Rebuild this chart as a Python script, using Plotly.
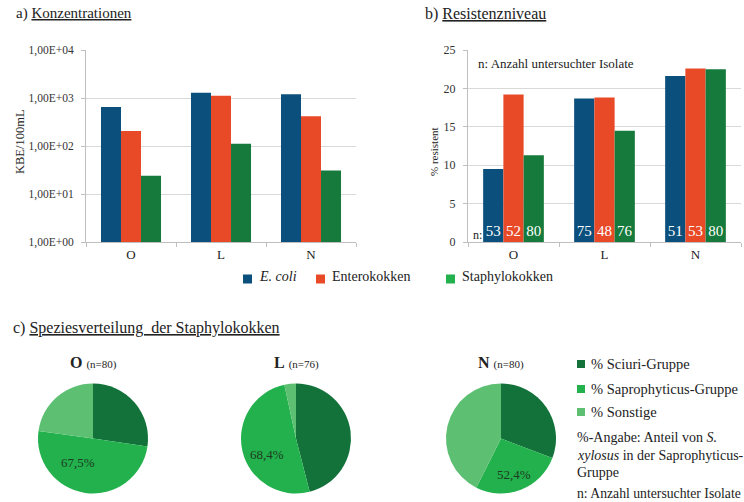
import plotly.graph_objects as go

W, H = 744, 502
FONT = "Liberation Serif, Times New Roman, DejaVu Serif, serif"

# ---------------- data ----------------
categories = ["O", "L", "N"]
series_names = ["<i>E. coli</i>", "Enterokokken", "Staphylokokken"]
series_colors = ["#0b4f7c", "#e84a27", "#167a3c"]
legend_colors = ["#0b4f7c", "#e84a27", "#22b14c"]

conc_ecoli = [650, 1290, 1200]
conc_entero = [205, 1120, 415]
conc_staph = [24, 112, 31]

res_ecoli = [9.5, 18.7, 21.6]
res_entero = [19.2, 18.8, 22.6]
res_staph = [11.3, 14.5, 22.5]

n_ecoli = [53, 75, 51]
n_entero = [52, 48, 53]
n_staph = [80, 76, 80]

log_tickvals = [1, 10, 100, 1000, 10000]
log_ticktext = ["1,00E+00", "1,00E+01", "1,00E+02", "1,00E+03", "1,00E+04"]
res_tickvals = [0, 5, 10, 15, 20, 25]

pie_labels = ["% Sciuri-Gruppe", "% Saprophyticus-Gruppe", "% Sonstige"]
pie_colors = ["#12723a", "#22b14c", "#5cbf72"]
pie_O = [27.3, 49.9, 22.8]
pie_L = [46.0, 50.6, 3.4]
pie_N = [30.8, 26.6, 42.6]
pie_titles = ["O", "L", "N"]
pie_n = [80, 76, 80]
xylosus_share = ["67,5%", "68,4%", "52,4%"]

# ---------------- helpers ----------------
def px(x):
    return x / W

def py(y):
    return 1 - y / H

fig = go.Figure()

conc = [conc_ecoli, conc_entero, conc_staph]
res = [res_ecoli, res_entero, res_staph]
ns = [n_ecoli, n_entero, n_staph]

for i in range(3):
    fig.add_trace(go.Bar(
        x=categories, y=conc[i], name=series_names[i],
        marker=dict(color=series_colors[i], line=dict(width=0)),
        xaxis="x", yaxis="y", showlegend=False,
    ))
for i in range(3):
    fig.add_trace(go.Bar(
        x=categories, y=res[i], name=series_names[i],
        marker=dict(color=series_colors[i], line=dict(width=0)),
        text=[str(v) for v in ns[i]], textposition="inside",
        insidetextanchor="start", textangle=0,
        insidetextfont=dict(family=FONT, size=15, color="white"),
        cliponaxis=False, constraintext="none",
        xaxis="x2", yaxis="y2", showlegend=False,
    ))

# pies
pie_vals = [pie_O, pie_L, pie_N]
pie_cx = [93, 296, 501]
pie_cy = 438.5
R = 55
for j in range(3):
    fig.add_trace(go.Pie(
        labels=pie_labels, values=pie_vals[j],
        marker=dict(colors=pie_colors, line=dict(width=0)),
        sort=False, direction="clockwise", rotation=0,
        textinfo="none", hoverinfo="label+percent", showlegend=False,
        domain=dict(x=[px(pie_cx[j] - R), px(pie_cx[j] + R)],
                    y=[py(pie_cy + R), py(pie_cy - R)]),
    ))

fig.update_layout(
    width=W, height=H,
    margin=dict(l=0, r=0, t=0, b=0, autoexpand=False),
    paper_bgcolor="white", plot_bgcolor="white",
    font=dict(family=FONT, color="#222222"),
    showlegend=False,
    barmode="group", bargap=0.333, bargroupgap=0,
    xaxis=dict(domain=[px(86), px(356)], anchor="y",
               ticks="outside", tickson="boundaries", ticklen=4, tickcolor="#bfbfbf",
               showgrid=False, linecolor="#bfbfbf", showline=True,
               tickfont=dict(family=FONT, size=13, color="#222222")),
    yaxis=dict(domain=[py(242), py(50)], anchor="x", type="log",
               range=[0, 4], tickvals=log_tickvals, ticktext=log_ticktext,
               gridcolor="#d9d9d9", ticks="outside", ticklen=4, tickcolor="#bfbfbf",
               ticklabelstandoff=5,
               showline=True, linecolor="#bfbfbf",
               tickfont=dict(family=FONT, size=11.5, color="#333333")),
    xaxis2=dict(domain=[px(468), px(741)], anchor="y2",
                ticks="outside", tickson="boundaries", ticklen=4, tickcolor="#bfbfbf",
                showgrid=False, linecolor="#bfbfbf", showline=True,
                tickfont=dict(family=FONT, size=13, color="#222222")),
    yaxis2=dict(domain=[py(242), py(50)], anchor="x2",
                range=[0, 25], tickvals=res_tickvals,
                gridcolor="#d9d9d9", ticks="outside", ticklen=4, tickcolor="#bfbfbf",
                ticklabelstandoff=5,
                showline=True, linecolor="#bfbfbf",
                tickfont=dict(family=FONT, size=12, color="#333333")),
)

ann = []
shapes = []
def add_text(x, y, text, size=13, xanchor="left", yanchor="middle", color="#222222", angle=0):
    ann.append(dict(x=px(x), y=py(y), xref="paper", yref="paper", text=text,
                    showarrow=False, xanchor=xanchor, yanchor=yanchor, textangle=angle,
                    font=dict(family=FONT, size=size, color=color)))

def add_square(x0, yc, color, s=9):
    shapes.append(dict(type="rect", xref="paper", yref="paper",
                       x0=px(x0), x1=px(x0 + s), y0=py(yc + s / 2), y1=py(yc - s / 2),
                       fillcolor=color, line=dict(width=0)))

add_text(14, 14, "a) <u>Konzentrationen</u>", size=15)
add_text(423, 14, "b) <u>Resistenzniveau</u>", size=16)
add_text(11, 328, "c) <u>Speziesverteilung  der Staphylokokken</u>", size=16)
add_text(20, 142, "KBE/100mL", size=12.5, xanchor="center", angle=-90)
add_text(434, 152, "% resistent", size=11, xanchor="center", angle=-90)
add_text(476, 63, "n: Anzahl untersuchter Isolate", size=13)
add_text(484, 235, "n:", size=12, xanchor="right")

# bar legend
leg_sq = [243, 316, 446]
for i in range(3):
    add_square(leg_sq[i], 279, legend_colors[i])
    add_text(leg_sq[i] + 14, 276, series_names[i], size=14)

for j in range(3):
    add_text(pie_cx[j], 362, "<b>%s</b> <span style='font-size:11px'>(n=%d)</span>" % (pie_titles[j], pie_n[j]),
             size=16, xanchor="center")
xyl_pos = [(78, 462), (267, 454), (514, 474)]
for j in range(3):
    add_text(xyl_pos[j][0], xyl_pos[j][1], xylosus_share[j], size=13, xanchor="center", color="#1e3a22")

# pie legend
leg_rows = [364, 389, 412]
for k in range(3):
    add_square(577, leg_rows[k], pie_colors[k], s=8)
    add_text(589, leg_rows[k], pie_labels[k], size=14.5)
add_text(575, 437, "%-Angabe: Anteil von <i>S.</i>", size=14)
add_text(575, 455, "<i>xylosus</i> in der Saprophyticus-", size=14)
add_text(575, 472, "Gruppe", size=14)
add_text(575, 493, "n: Anzahl untersuchter Isolate", size=13.7)

fig.update_layout(annotations=ann, shapes=shapes)
fig.write_html("out.html", config={"displayModeBar": False},
               post_script="document.body.style.margin='0px';")
